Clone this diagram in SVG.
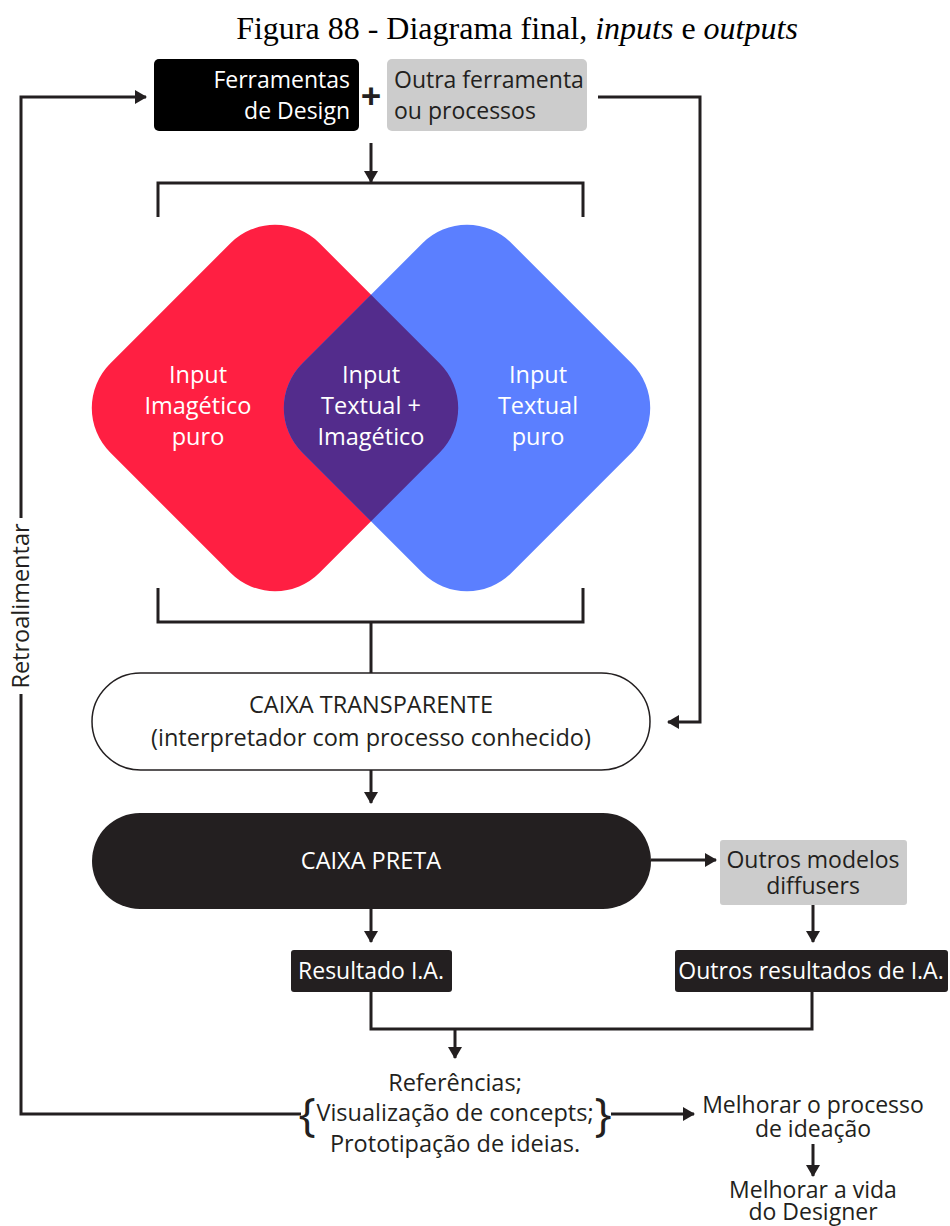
<svg xmlns="http://www.w3.org/2000/svg" width="950" height="1226" viewBox="0 0 950 1226">
  <style>
    .t { font-family: "Open Sans", "Liberation Sans", sans-serif; font-size: 23.5px; }
    .s { font-size: 23px; }
    .w { fill: #ffffff; }
    .k { fill: #231f20; }
    .mid { text-anchor: middle; }
    .ln { fill: none; stroke: #231f20; stroke-width: 3; }
    .title { font-family: "Liberation Serif", serif; font-size: 32px; fill: #000; }
  </style>
  <defs>
    <marker id="ah" viewBox="0 0 12 14" refX="11" refY="7" markerWidth="12" markerHeight="14" markerUnits="userSpaceOnUse" orient="auto">
      <path d="M0,0 L12,7 L0,14 Z" fill="#231f20"/>
    </marker>
    <clipPath id="redClip">
      <rect x="-148" y="-148" width="296" height="296" rx="63" transform="translate(275,408) rotate(45)"/>
    </clipPath>
  </defs>

  <rect width="950" height="1226" fill="#ffffff"/>

  <text class="title" x="517" y="39" text-anchor="middle">Figura 88 - Diagrama final, <tspan font-style="italic">inputs</tspan> e <tspan font-style="italic">outputs</tspan></text>

  <!-- connectors -->
  <g id="connectors">
    <path class="ln" d="M21,518 V97 H146" marker-end="url(#ah)"/>
    <path class="ln" d="M21,694 V1114 H301"/>
    <path class="ln" d="M598,97 H700 V722 H668" marker-end="url(#ah)"/>
    <path class="ln" d="M371,143 V182" marker-end="url(#ah)"/>
    <path class="ln" d="M158,217 V183 H583 V217"/>
    <path class="ln" d="M158,588 V622 H583 V588"/>
    <path class="ln" d="M371,622 V673"/>
    <path class="ln" d="M371,770 V803" marker-end="url(#ah)"/>
    <path class="ln" d="M651,860 H716" marker-end="url(#ah)"/>
    <path class="ln" d="M371,909 V942" marker-end="url(#ah)"/>
    <path class="ln" d="M813,905 V942" marker-end="url(#ah)"/>
    <path class="ln" d="M371,992 V1029 H812 V992"/>
    <path class="ln" d="M455,1029 V1058" marker-end="url(#ah)"/>
    <path class="ln" d="M611,1114 H694" marker-end="url(#ah)"/>
    <path class="ln" d="M813,1144 V1176" marker-end="url(#ah)"/>
    <text class="t k mid" font-size="24" transform="translate(29,606) rotate(-90)">Retroalimentar</text>
  </g>

  <g id="ferramentas-design">
    <rect x="154" y="59" width="205" height="72" rx="5" fill="#000000"/>
    <text class="t s w" x="350" y="88" text-anchor="end">Ferramentas</text>
    <text class="t s w" x="350" y="119" text-anchor="end">de Design</text>
  </g>
  <g id="plus">
    <text class="k mid" x="371" y="109" font-family="Open Sans, sans-serif" font-size="36" font-weight="bold">+</text>
  </g>
  <g id="outra-ferramenta">
    <rect x="387" y="59" width="200" height="72" rx="5" fill="#cccccc"/>
    <text class="t s k" x="394" y="88">Outra ferramenta</text>
    <text class="t s k" x="394" y="119">ou processos</text>
  </g>

  <g id="input-imagetico">
    <rect x="-148" y="-148" width="296" height="296" rx="63" transform="translate(275,408) rotate(45)" fill="#ff1f42"/>
  </g>
  <g id="input-textual">
    <rect x="-148" y="-148" width="296" height="296" rx="63" transform="translate(467,408) rotate(45)" fill="#5b7fff"/>
  </g>
  <!-- overlap of the two shapes -->
  <g id="input-misto" clip-path="url(#redClip)">
    <rect x="-148" y="-148" width="296" height="296" rx="63" transform="translate(467,408) rotate(45)" fill="#532c8c"/>
  </g>
  <g id="labels-inputs">
    <text class="t w mid" x="198" y="383">Input</text>
    <text class="t w mid" x="198" y="414">Imagético</text>
    <text class="t w mid" x="198" y="445">puro</text>
    <text class="t w mid" x="371" y="383">Input</text>
    <text class="t w mid" x="371" y="414">Textual +</text>
    <text class="t w mid" x="371" y="445">Imagético</text>
    <text class="t w mid" x="538" y="383">Input</text>
    <text class="t w mid" x="538" y="414">Textual</text>
    <text class="t w mid" x="538" y="445">puro</text>
  </g>

  <g id="caixa-transparente">
    <rect x="92" y="673" width="558" height="97" rx="48.5" fill="#ffffff" stroke="#231f20" stroke-width="1.5"/>
    <text class="t k mid" x="371" y="713">CAIXA TRANSPARENTE</text>
    <text class="t k mid" x="371" y="746">(interpretador com processo conhecido)</text>
  </g>

  <g id="caixa-preta">
    <rect x="92" y="813" width="559" height="96" rx="48" fill="#231f20"/>
    <text class="t w mid" x="371" y="869">CAIXA PRETA</text>
  </g>

  <g id="outros-modelos">
    <rect x="720" y="840" width="187" height="65" rx="3" fill="#cccccc"/>
    <text class="t s k mid" x="813" y="868">Outros modelos</text>
    <text class="t s k mid" x="813" y="894">diffusers</text>
  </g>

  <g id="resultado-ia">
    <rect x="291" y="950" width="161" height="42" rx="3" fill="#231f20"/>
    <text class="t s w mid" x="371" y="979">Resultado I.A.</text>
  </g>

  <g id="outros-resultados">
    <rect x="675" y="950" width="273" height="42" rx="3" fill="#231f20"/>
    <text class="t s w mid" x="811" y="979">Outros resultados de I.A.</text>
  </g>

  <g id="usos">
    <text class="t k mid" x="455" y="1091">Referências;</text>
    <text class="t k mid" x="455" y="1121">Visualização de concepts;</text>
    <text class="t k mid" x="455" y="1152">Prototipação de ideias.</text>
    <text class="k mid" x="307" y="1131" font-family="Open Sans, sans-serif" font-size="46">{</text>
    <text class="k mid" x="603" y="1131" font-family="Open Sans, sans-serif" font-size="46">}</text>
  </g>

  <g id="melhorar-processo">
    <text class="t s k mid" x="813" y="1113">Melhorar o processo</text>
    <text class="t s k mid" x="813" y="1137">de ideação</text>
  </g>

  <g id="melhorar-vida">
    <text class="t s k mid" x="813" y="1198">Melhorar a vida</text>
    <text class="t s k mid" x="813" y="1220">do Designer</text>
  </g>
</svg>
